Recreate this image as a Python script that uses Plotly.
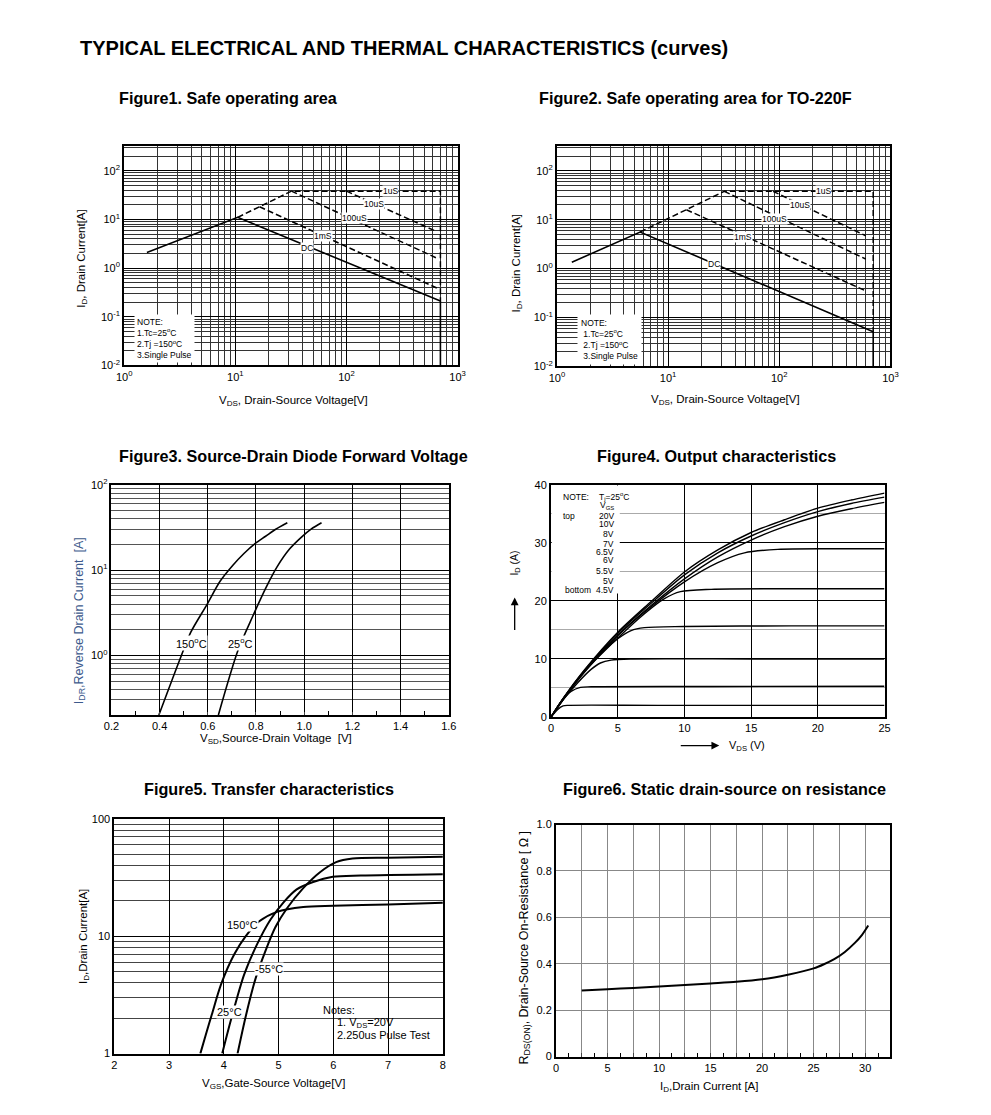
import numpy as np
import plotly.graph_objects as go

PAGE_W, PAGE_H = 991, 1115
MARGIN = 8  # default body margin of the html page
W, H = PAGE_W - 2 * MARGIN, PAGE_H - 2 * MARGIN
FONT = "Arial, 'Liberation Sans', sans-serif"

# ---------------- data ----------------
# Figure 1 : SOA
f1_dc_x = [1.6, 10.5, 700]
f1_dc_y = [2.1, 11.0, 0.21]
f1_lim_x = [700, 700]
f1_lim_y = [0.21, 0.01]
f1_1us_x = [10.5, 32, 700, 700]
f1_1us_y = [11.0, 38, 38, 0.21]
f1_10us_x = [100, 650]
f1_10us_y = [38, 5.6]
f1_100us_x = [32, 650]
f1_100us_y = [38, 1.6]
f1_1ms_x = [16.5, 650]
f1_1ms_y = [18.2, 0.39]
f1_lbl_text = ["1uS", "10uS", "100uS", "1mS", "DC"]
f1_lbl_x = [250, 178, 117, 62, 44]
f1_lbl_y = [38, 21, 10.5, 4.5, 2.6]

# Figure 2 : SOA TO-220F
f2_dc_x = [1.36, 5.6, 700]
f2_dc_y = [1.35, 5.6, 0.051]
f2_lim_x = [700, 700]
f2_lim_y = [0.051, 0.01]
f2_1us_x = [5.6, 32, 700, 700]
f2_1us_y = [5.6, 38, 38, 0.051]
f2_10us_x = [88, 600]
f2_10us_y = [38, 4.7]
f2_100us_x = [32, 600]
f2_100us_y = [38, 1.57]
f2_1ms_x = [14.6, 600]
f2_1ms_y = [16.0, 0.35]
f2_lbl_text = ["1uS", "10uS", "100uS", "1mS", "DC"]
f2_lbl_x = [250, 155, 90, 47, 26]
f2_lbl_y = [38, 20, 10.5, 4.5, 1.27]

note_lines = ["NOTE:", "1.Tc=25<sup>o</sup>C", "2.Tj =150<sup>o</sup>C", "3.Single Pulse"]

# Figure 3 : diode forward voltage
f3_150_x = [0.397, 0.488, 0.529, 0.597, 0.651, 0.705, 0.75, 0.796, 0.84, 0.88, 0.93]
f3_150_y = [0.2, 0.96, 1.86, 3.97, 7.4, 11.5, 15.7, 20.5, 25, 30, 36]
f3_25_x = [0.644, 0.725, 0.787, 0.841, 0.888, 0.94, 0.99, 1.03, 1.072]
f3_25_y = [0.2, 1.14, 2.9, 6.2, 11, 17.8, 24.6, 30.5, 36]

# Figure 4 : output characteristics
f4_vgs = ["20V", "10V", "8V", "7V", "6.5V", "6V", "5.5V", "5V", "4.5V"]
f4_x = {
    "20V": [0, 1, 2.5, 5, 7.5, 10, 12.5, 15, 17.5, 20, 22.5, 25],
    "10V": [0, 1, 2.5, 5, 7.5, 10, 12.5, 15, 17.5, 20, 22.5, 25],
    "8V": [0, 1, 2.5, 5, 7.5, 10, 12.5, 15, 17.5, 20, 22.5, 25],
    "7V": [0, 1, 2.5, 5, 7.5, 10, 12.5, 14.5, 17, 21, 25],
    "6.5V": [0, 1, 2.5, 5, 7, 8.5, 9.7, 12, 18, 25],
    "6V": [0, 1, 2.5, 4, 5, 6, 7, 10, 18, 25],
    "5.5V": [0, 1, 2, 3, 3.7, 4.5, 6, 15, 25],
    "5V": [0, 0.8, 1.5, 2.2, 3, 12, 25],
    "4.5V": [0, 0.5, 0.9, 1.3, 8, 25],
}
f4_y = {
    "20V": [0, 3.5, 8.1, 14.6, 19.9, 25.0, 28.8, 31.8, 34.0, 36.0, 37.4, 38.6],
    "10V": [0, 3.5, 8.0, 14.4, 19.6, 24.5, 28.3, 31.2, 33.5, 35.4, 36.8, 37.9],
    "8V": [0, 3.4, 7.9, 14.1, 19.2, 23.8, 27.6, 30.5, 32.8, 34.6, 35.9, 37.0],
    "7V": [0, 3.4, 7.9, 14.0, 19.0, 23.3, 26.6, 28.3, 28.9, 29.0, 29.0],
    "6.5V": [0, 3.4, 7.8, 13.6, 17.8, 20.4, 21.6, 22.0, 22.1, 22.1],
    "6V": [0, 3.3, 7.7, 11.5, 13.5, 14.9, 15.4, 15.6, 15.7, 15.7],
    "5.5V": [0, 3.2, 5.9, 8.2, 9.3, 9.8, 10.0, 10.0, 10.0],
    "5V": [0, 2.8, 4.4, 5.1, 5.2, 5.25, 5.3],
    "4.5V": [0, 1.3, 1.9, 2.0, 2.0, 2.0],
}

# Figure 5 : transfer characteristics
f5_m55_x = [4.25, 4.40, 4.58, 4.76, 4.94, 5.15, 5.45, 5.75, 6.05, 6.35, 7.0, 8.0]
f5_m55_y = [1.0, 2.08, 4.37, 7.5, 11.9, 17.2, 25.6, 34.8, 42.6, 45.8, 46.5, 47.3]
f5_25_x = [3.97, 4.13, 4.37, 4.61, 4.85, 5.09, 5.33, 5.63, 5.99, 6.5, 8.0]
f5_25_y = [1.0, 1.94, 4.7, 8.6, 13.8, 19.4, 25.0, 28.9, 32.0, 32.8, 33.7]
f5_150_x = [3.57, 3.67, 3.78, 3.95, 4.19, 4.40, 4.64, 4.97, 5.45, 6.0, 7.0, 8.0]
f5_150_y = [1.0, 1.45, 2.15, 3.9, 7.0, 10.0, 13.3, 16.1, 17.7, 18.1, 18.6, 19.2]

# Figure 6 : on resistance
f6_x = [2.5, 5, 7.5, 10, 12.5, 15, 17.5, 20, 22.5, 25, 26, 27, 28, 29, 29.7, 30.3]
f6_y = [0.285, 0.29, 0.296, 0.302, 0.308, 0.315, 0.322, 0.333, 0.353, 0.38, 0.398, 0.42, 0.45, 0.49, 0.525, 0.565]

# ---------------- helpers ----------------
def px(x):
    return (x - MARGIN) / W

def py(y):
    return 1 - (y - MARGIN) / H

def xd(a, b):
    return [px(a), px(b)]

def yd(a, b):
    return [py(b), py(a)]

def log_minor(lo, hi):
    return [m * 10 ** e for e in range(lo, hi) for m in range(2, 10)]

def pow_labels(exps):
    return ["10<sup>%d</sup>" % e for e in exps]

fig = go.Figure()

def add_line(x, y, xa, ya, dash="solid", width=1.6, shape="linear"):
    fig.add_trace(go.Scatter(x=x, y=y, xaxis=xa, yaxis=ya, mode="lines",
                             line=dict(color="black", width=width, dash=dash, shape=shape,
                                       smoothing=0.8 if shape == "spline" else None),
                             hoverinfo="skip", showlegend=False))

DASH = "6px,3px"
# Figure 1 traces
add_line(f1_dc_x, f1_dc_y, "x", "y")
add_line(f1_lim_x, f1_lim_y, "x", "y")
for xs, ys in [(f1_1us_x, f1_1us_y), (f1_10us_x, f1_10us_y), (f1_100us_x, f1_100us_y), (f1_1ms_x, f1_1ms_y)]:
    add_line(xs, ys, "x", "y", dash=DASH, width=1.5)
# Figure 2 traces
add_line(f2_dc_x, f2_dc_y, "x2", "y2")
add_line(f2_lim_x, f2_lim_y, "x2", "y2")
for xs, ys in [(f2_1us_x, f2_1us_y), (f2_10us_x, f2_10us_y), (f2_100us_x, f2_100us_y), (f2_1ms_x, f2_1ms_y)]:
    add_line(xs, ys, "x2", "y2", dash=DASH, width=1.5)
# Figure 3
add_line(f3_150_x, f3_150_y, "x3", "y3", shape="spline")
add_line(f3_25_x, f3_25_y, "x3", "y3", shape="spline")
# Figure 4
for k in f4_vgs:
    add_line(f4_x[k], f4_y[k], "x4", "y4", shape="spline", width=1.4)
# Figure 5
add_line(f5_m55_x, f5_m55_y, "x5", "y5", shape="spline", width=2)
add_line(f5_25_x, f5_25_y, "x5", "y5", shape="spline", width=2)
add_line(f5_150_x, f5_150_y, "x5", "y5", shape="spline", width=2)
# Figure 6
add_line(f6_x, f6_y, "x6", "y6", shape="spline", width=2)

# ---------------- axes ----------------
TF = dict(size=11, color="black", family=FONT)

def base(domain, anchor, **kw):
    d = dict(domain=domain, anchor=anchor, showline=True, linecolor="black", linewidth=2,
             mirror=True, ticks="", zeroline=False, showgrid=True, gridcolor="black",
             gridwidth=1, tickfont=TF, fixedrange=True)
    d.update(kw)
    return d

layout = dict(
    width=W, height=H, margin=dict(l=0, r=0, t=0, b=0),
    paper_bgcolor="white", plot_bgcolor="white", font=dict(family=FONT, color="black"),
    showlegend=False,
)
# Fig1
layout["xaxis"] = base(xd(118, 457), "y", type="log", range=[0, 3],
                       tickmode="array", tickvals=[1, 10, 100, 1000], ticktext=pow_labels([0, 1, 2, 3]),
                       minor=dict(tickmode="array", tickvals=log_minor(0, 3), showgrid=True,
                                  gridcolor="#333", gridwidth=0.7))
layout["yaxis"] = base(yd(140, 362), "x", type="log", range=[-2, 2.5],
                       tickmode="array", tickvals=[0.01, 0.1, 1, 10, 100], ticktext=pow_labels([-2, -1, 0, 1, 2]),
                       minor=dict(tickmode="array", tickvals=log_minor(-2, 3), showgrid=True,
                                  gridcolor="#333", gridwidth=0.7))
# Fig2
layout["xaxis2"] = base(xd(558, 897), "y2", type="log", range=[0, 3],
                        tickmode="array", tickvals=[1, 10, 100, 1000], ticktext=pow_labels([0, 1, 2, 3]),
                        minor=dict(tickmode="array", tickvals=log_minor(0, 3), showgrid=True,
                                   gridcolor="#333", gridwidth=0.7))
layout["yaxis2"] = base(yd(140, 363), "x2", type="log", range=[-2, 2.5],
                        tickmode="array", tickvals=[0.01, 0.1, 1, 10, 100], ticktext=pow_labels([-2, -1, 0, 1, 2]),
                        minor=dict(tickmode="array", tickvals=log_minor(-2, 3), showgrid=True,
                                   gridcolor="#333", gridwidth=0.7))
# Fig3
layout["xaxis3"] = base(xd(105, 448), "y3", range=[0.2, 1.6], dtick=0.2, tick0=0.2, tickformat=".1f",
                        linewidth=1.5, ticks="inside", ticklen=3,
                        minor=dict(dtick=0.1, ticks="inside", ticklen=4, tickcolor="black", showgrid=False))
layout["yaxis3"] = base(yd(483, 716), "x3", type="log", range=[np.log10(0.2), 2], linewidth=1.5,
                        tickmode="array", tickvals=[1, 10, 100], ticktext=pow_labels([0, 1, 2]),
                        minor=dict(tickmode="array", tickvals=log_minor(-1, 2)[1:], showgrid=True,
                                   gridcolor="#555", gridwidth=0.8))
# Fig4
layout["xaxis4"] = base(xd(552, 891), "y4", range=[0, 25], dtick=5)
layout["yaxis4"] = base(yd(483, 718), "x4", range=[0, 40], dtick=10,
                        minor=dict(dtick=5, showgrid=True, gridcolor="#aaa", gridwidth=1))
# Fig5
layout["xaxis5"] = base(xd(108, 442), "y5", range=[2, 8], dtick=1)
layout["yaxis5"] = base(yd(821, 1059), "x5", type="log", range=[0, 2],
                        tickmode="array", tickvals=[1, 10, 100], ticktext=["1", "10", "100"],
                        minor=dict(tickmode="array", tickvals=log_minor(0, 2), showgrid=True,
                                   gridcolor="#444", gridwidth=0.8))
# Fig6
f6_tv = [i * 2.5 for i in range(13)]
layout["xaxis6"] = base(xd(557, 897), "y6", range=[0, 32.45], gridcolor="#888",
                        tickmode="array", tickvals=f6_tv,
                        ticktext=[("%d" % v if v % 5 == 0 else "") for v in f6_tv],
                        ticks="inside", ticklen=4,
                        minor=dict(dtick=1.25, ticks="inside", ticklen=4, tickcolor="black", showgrid=False))
layout["yaxis6"] = base(yd(827, 1062), "x6", range=[0, 1.0], gridcolor="#888",
                        tickmode="array", tickvals=[0, 0.2, 0.4, 0.6, 0.8, 1.0],
                        ticktext=["0", "0.2", "0.4", "0.6", "0.8", "1.0"])

fig.update_layout(**layout)

# ---------------- annotations ----------------
def ann(text, x, y, size=11.5, angle=0, xanchor="center", yanchor="middle", color="black",
        bold=False, bg=None, align="center"):
    if bold:
        text = "<b>%s</b>" % text
    fig.add_annotation(text=text, x=px(x), y=py(y), xref="paper", yref="paper",
                       showarrow=False, textangle=angle, xanchor=xanchor, yanchor=yanchor,
                       align=align, font=dict(size=size, color=color, family=FONT),
                       bgcolor=bg, borderpad=0)

def dann(text, x, y, xa, ya, size=8.5, bg="white", logx=False, logy=False):
    fig.add_annotation(text=text, x=np.log10(x) if logx else x, y=np.log10(y) if logy else y,
                       xref=xa, yref=ya, showarrow=False, font=dict(size=size, color="black", family=FONT),
                       bgcolor=bg, borderpad=0)

TS = 16.2
ann("TYPICAL ELECTRICAL AND THERMAL CHARACTERISTICS (curves)", 72, 40, size=20, xanchor="left", bold=True)
ann("Figure1. Safe operating area", 224, 91, size=TS, bold=True)
ann("Figure2. Safe operating area for TO-220F", 699, 91, size=TS, bold=True)
ann("Figure3. Source-Drain Diode Forward Voltage", 290, 454, size=TS, bold=True)
ann("Figure4. Output characteristics", 720, 454, size=TS, bold=True)
ann("Figure5. Transfer characteristics", 265, 791, size=TS, bold=True)
ann("Figure6. Static drain-source on resistance", 728, 791, size=TS, bold=True)

# Fig1 / Fig2 labels
for t, x, y in zip(f1_lbl_text, f1_lbl_x, f1_lbl_y):
    dann(t, x, y, "x", "y", logx=True, logy=True)
for t, x, y in zip(f2_lbl_text, f2_lbl_x, f2_lbl_y):
    dann(t, x, y, "x2", "y2", logx=True, logy=True)
fig.add_annotation(text="<br>".join(note_lines), x=px(128), y=py(310), xref="paper", yref="paper",
                   showarrow=False, xanchor="left", yanchor="top", align="left",
                   font=dict(size=8.5, family=FONT, color="black"), bgcolor="white", borderpad=2)
fig.add_annotation(text="<br>".join(["NOTE:"] + [" " + s for s in note_lines[1:]]), x=px(578), y=py(310),
                   xref="paper", yref="paper",
                   showarrow=False, xanchor="left", yanchor="top", align="left",
                   font=dict(size=8.5, family=FONT, color="black"), bgcolor="white", borderpad=3)
ann("I<sub>D</sub>, Drain Current[A]", 75, 253, angle=-90)
ann("V<sub>DS</sub>, Drain-Source Voltage[V]", 290, 398)
ann("I<sub>D</sub>, Drain Current[A]", 517, 258, angle=-90)
ann("V<sub>DS</sub>, Drain-Source Voltage[V]", 729, 397)

# Fig3 labels
dann("150<sup>o</sup>C", 0.531, 1.38, "x3", "y3", size=11, logy=True)
dann("25<sup>o</sup>C", 0.735, 1.38, "x3", "y3", size=11, logy=True)
ann("I<sub>DR</sub>,Reverse Drain Current  [A]", 73, 620, size=12.5, angle=-90, color="#3d5a8c")
ann("V<sub>SD</sub>,Source-Drain Voltage  [V]", 272, 740)

# Fig4 note box and labels
fig.add_shape(type="rect", xref="x4", yref="y4", x0=0.05, x1=5.15, y0=21.3, y1=39.9,
              fillcolor="white", line=dict(width=0), layer="between")
ann("NOTE:", 563, 495, size=8.5, xanchor="left")
ann("T<sub>j</sub>=25<sup>o</sup>C", 600, 495, size=8.5, xanchor="left")
ann("V<sub>GS</sub>", 609, 504, size=8.5)
ann("top", 563, 514, size=8.5, xanchor="left")
f4_lbl_y = [514, 523, 533, 543, 551, 559, 570, 580, 589]
for t, yy in zip(f4_vgs, f4_lbl_y):
    ann(t, 617, yy, size=8.5, xanchor="right")
ann("bottom", 565, 589, size=8.5, xanchor="left")
ann("I<sub>D</sub> (A)", 515, 562, size=10.5, angle=-90)
ann("V<sub>DS</sub> (V)", 751, 747, size=11)
fig.add_annotation(x=px(515), y=py(597), xref="paper", yref="paper", ax=0, ay=34,
                   showarrow=True, arrowhead=2, arrowsize=1.2, arrowwidth=1.3, arrowcolor="black", text="")
fig.add_annotation(x=px(723), y=py(747), xref="paper", yref="paper", ax=-40, ay=0,
                   showarrow=True, arrowhead=2, arrowsize=1.2, arrowwidth=1.3, arrowcolor="black", text="")

# Fig5 labels
dann("150°C", 4.34, 12.5, "x5", "y5", size=11, logy=True)
dann("-55°C", 4.82, 5.3, "x5", "y5", size=11, logy=True)
dann("25°C", 4.10, 2.25, "x5", "y5", size=11, logy=True)
ann("Notes:", 319, 1015, size=11, xanchor="left")
ann("1. V<sub>DS</sub>=20V", 333, 1028, size=11, xanchor="left")
ann("2.250us Pulse Test", 333, 1040, size=11, xanchor="left")
ann("I<sub>D</sub>,Drain Current[A]", 77, 940, angle=-90)
ann("V<sub>GS</sub>,Gate-Source Voltage[V]", 270, 1090)

# Fig6 labels
ann("R<sub>DS(ON)</sub>, Drain-Source On-Resistance [ Ω ]", 525, 952, size=12.5, angle=-90)
ann("I<sub>D</sub>,Drain Current [A]", 713, 1093)

fig.write_html("out.html", config={"displayModeBar": False})
